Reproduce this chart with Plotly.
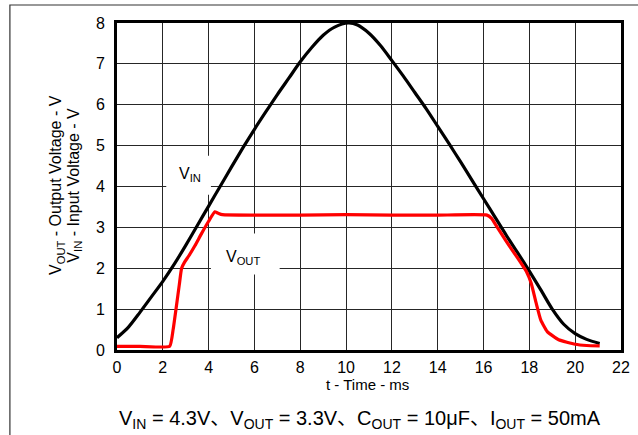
import plotly.graph_objects as go

# Input voltage ramp (ms, V)
t_in = [0.0, 0.5, 1.0, 1.5, 2.0, 2.5, 3.0, 3.5, 4.0, 4.5, 5.0, 5.5, 6.0, 6.5,
        7.0, 7.5, 8.0, 8.5, 9.0, 9.5, 10.1, 10.5, 11.0, 11.5, 12.0, 12.5,
        13.0, 13.5, 14.0, 14.5, 15.0, 15.5, 16.0, 16.5, 17.0, 17.5, 18.0,
        18.5, 19.0, 19.5, 20.0, 20.5, 21.07]
v_in = [0.30, 0.56, 0.92, 1.30, 1.68, 2.10, 2.56, 3.04, 3.52, 4.00, 4.48,
        4.95, 5.40, 5.83, 6.25, 6.65, 7.05, 7.40, 7.70, 7.90, 8.00, 7.95,
        7.75, 7.45, 7.08, 6.70, 6.30, 5.90, 5.47, 5.04, 4.60, 4.15, 3.70,
        3.25, 2.80, 2.37, 1.93, 1.47, 1.00, 0.63, 0.40, 0.26, 0.16]

# Regulated output voltage (ms, V)
t_out = [0.0, 1.0, 2.3, 2.45, 2.6, 2.72, 2.82, 2.95, 3.13, 3.4, 3.7, 4.0,
         4.27, 4.4, 4.6, 6.0, 8.0, 10.0, 12.0, 14.0, 16.15, 16.35, 16.58,
         17.0, 17.44, 17.87, 18.08, 18.3, 18.5, 18.78, 19.28, 20.0, 20.5,
         21.07]
v_out = [0.09, 0.09, 0.09, 0.50, 1.10, 1.60, 2.00, 2.15, 2.30, 2.55, 2.86,
         3.15, 3.38, 3.35, 3.31, 3.30, 3.30, 3.31, 3.30, 3.30, 3.30, 3.22,
         3.02, 2.65, 2.29, 1.92, 1.63, 1.14, 0.73, 0.45, 0.25, 0.14, 0.11,
         0.10]

x_ticks = list(range(0, 23, 2))
y_ticks = list(range(0, 9))

FONT = "Liberation Sans, Arial, Noto Sans CJK SC, sans-serif"

fig = go.Figure()
fig.add_trace(go.Scatter(x=t_in, y=v_in, mode="lines",
                         line=dict(color="black", width=3.2, shape="spline", smoothing=0.8),
                         hoverinfo="skip"))
fig.add_trace(go.Scatter(x=t_out, y=v_out, mode="lines",
                         line=dict(color="#ff0000", width=3.2, shape="spline", smoothing=0.4),
                         hoverinfo="skip"))

grid = dict(showgrid=True, gridcolor="#262626", gridwidth=1.3, zeroline=False,
            showline=True, linecolor="black", linewidth=3, mirror=True,
            ticks="", tickfont=dict(family=FONT, size=16, color="black"))

fig.update_xaxes(range=[0, 22], tickvals=x_ticks, ticktext=[str(v) for v in x_ticks],
                 ticklabelstandoff=1, **grid)
fig.update_yaxes(range=[0, 8], tickvals=y_ticks, ticktext=[str(v) for v in y_ticks],
                 ticklabelstandoff=6, **grid)

shapes = [
    # white patches behind the curve labels (over the grid, under the traces)
    dict(type="rect", xref="x", yref="y", x0=2.15, x1=4.1, y0=3.8, y1=4.75,
         fillcolor="white", line=dict(width=0), layer="between"),
    dict(type="rect", xref="x", yref="y", x0=4.1, x1=7.1, y0=1.85, y1=2.85,
         fillcolor="white", line=dict(width=0), layer="between"),
    # outer frame
    dict(type="rect", xref="paper", yref="paper", x0=-0.2125, x1=1.05, y0=-0.35, y1=1.055,
         line=dict(color="#333333", width=1.2), fillcolor="rgba(0,0,0,0)", layer="above"),
]

label_font = dict(family=FONT, size=16, color="black")
annotations = [
    dict(x=3.2, y=4.3, xref="x", yref="y", text="V<sub>IN</sub>", showarrow=False,
         font=label_font),
    dict(x=5.5, y=2.26, xref="x", yref="y", text="V<sub>OUT</sub>", showarrow=False,
         font=label_font),
    dict(x=-0.1189, y=0.505, xref="paper", yref="paper", textangle=-90,
         xanchor="center", yanchor="middle",
         text="V<sub>OUT</sub> - Output Voltage - V", showarrow=False,
         font=label_font),
    dict(x=-0.0838, y=0.505, xref="paper", yref="paper", textangle=-90,
         xanchor="center", yanchor="middle",
         text="V<sub>IN</sub> - Input Voltage - V", showarrow=False,
         font=label_font),
    dict(x=0.498, y=-0.107, xref="paper", yref="paper", yanchor="middle",
         text="t - Time - ms", showarrow=False,
         font=dict(family=FONT, size=15, color="black")),
    dict(x=0.483, y=-0.212, xref="paper", yref="paper", yanchor="middle",
         text="V<sub>IN</sub> = 4.3V、V<sub>OUT</sub> = 3.3V、C<sub>OUT</sub> = 10μF、I<sub>OUT</sub> = 50mA",
         showarrow=False, font=dict(family=FONT, size=20, color="black")),
]

fig.update_layout(
    width=638, height=435,
    margin=dict(l=117, r=8, t=23, b=85),
    paper_bgcolor="white", plot_bgcolor="white",
    showlegend=False, shapes=shapes, annotations=annotations,
)

fig.write_html("out.html")
